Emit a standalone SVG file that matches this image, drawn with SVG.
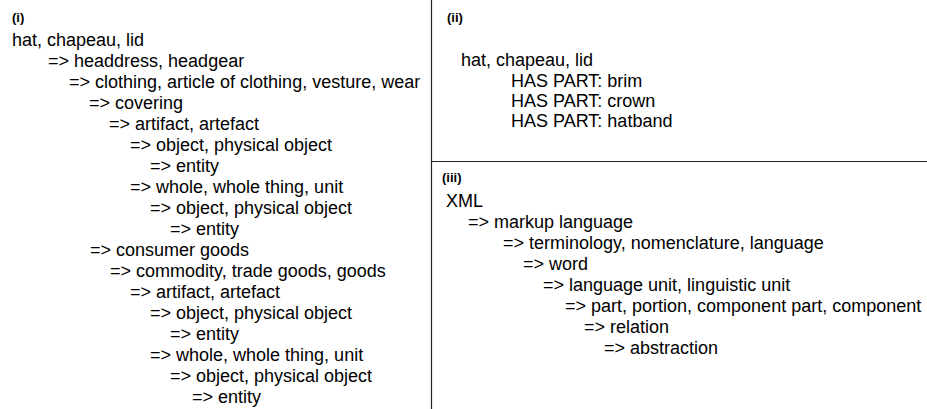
<svg xmlns="http://www.w3.org/2000/svg" width="927" height="409" viewBox="0 0 927 409">
<style>
text{font-family:"Liberation Sans",Arial,sans-serif;font-size:18px;fill:#000}
.lbl{font-weight:bold;font-size:13px}
.rule{stroke:#222;stroke-width:1.2;fill:none}
</style>
<rect width="927" height="409" fill="#fff"/>
<g id="connectors">
<line class="rule" x1="431.5" y1="0" x2="431.5" y2="409"/>
<line class="rule" x1="431.5" y1="161.5" x2="927" y2="161.5"/>
</g>
<g id="panel-i">
<text class="lbl" x="12" y="22">(i)</text>
<text x="12" y="46">hat, chapeau, lid</text>
<text x="48" y="67">=&gt; headdress, headgear</text>
<text x="69" y="88">=&gt; clothing, article of clothing, vesture, wear</text>
<text x="89" y="109">=&gt; covering</text>
<text x="109" y="130">=&gt; artifact, artefact</text>
<text x="130" y="151">=&gt; object, physical object</text>
<text x="150" y="172">=&gt; entity</text>
<text x="130" y="193">=&gt; whole, whole thing, unit</text>
<text x="150" y="214">=&gt; object, physical object</text>
<text x="170" y="235">=&gt; entity</text>
<text x="90" y="256">=&gt; consumer goods</text>
<text x="110" y="277">=&gt; commodity, trade goods, goods</text>
<text x="130" y="298">=&gt; artifact, artefact</text>
<text x="150" y="319">=&gt; object, physical object</text>
<text x="170" y="340">=&gt; entity</text>
<text x="150" y="361">=&gt; whole, whole thing, unit</text>
<text x="170" y="382">=&gt; object, physical object</text>
<text x="192" y="403">=&gt; entity</text>
</g>
<g id="panel-ii">
<text class="lbl" x="447" y="22">(ii)</text>
<text x="461" y="66">hat, chapeau, lid</text>
<text x="511" y="87">HAS PART: brim</text>
<text x="511" y="107">HAS PART: crown</text>
<text x="511" y="127">HAS PART: hatband</text>
</g>
<g id="panel-iii">
<text class="lbl" x="442" y="182">(iii)</text>
<text x="446" y="207">XML</text>
<text x="468" y="228">=&gt; markup language</text>
<text x="503" y="249">=&gt; terminology, nomenclature, language</text>
<text x="523" y="270">=&gt; word</text>
<text x="543" y="291">=&gt; language unit, linguistic unit</text>
<text x="565" y="312">=&gt; part, portion, component part, component</text>
<text x="584" y="333">=&gt; relation</text>
<text x="604" y="354">=&gt; abstraction</text>
</g>
</svg>
